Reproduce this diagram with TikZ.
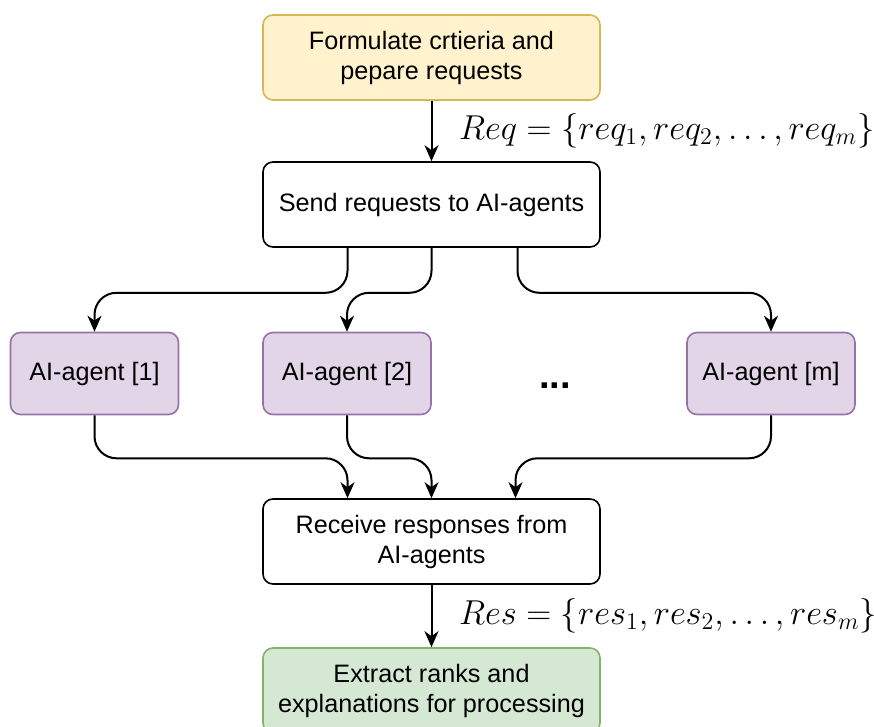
\documentclass[tikz,border=0pt]{standalone}
\usepackage{amsmath}
\usepackage{fontspec}
\setmainfont{Liberation Sans}
\usetikzlibrary{arrows.meta}
\definecolor{startfill}{HTML}{FFF2CC}
\definecolor{startline}{HTML}{D6B656}
\definecolor{agentfill}{HTML}{E1D5E7}
\definecolor{agentline}{HTML}{9673A6}
\definecolor{finishfill}{HTML}{D5E8D4}
\definecolor{finishline}{HTML}{82B366}
\newcommand{\boxfont}{\fontsize{12.6}{15}\selectfont}

\begin{document}
\begin{tikzpicture}[x=0.5pt,y=-0.5pt,->,>={Stealth[length=8pt,width=7pt,inset=2.5pt]},line width=1pt]
 % styles
 \tikzstyle{stage} = [rectangle,rounded corners=5pt,draw=black,fill=white,line width=0.8pt,minimum width=168.5pt,minimum height=42.5pt,align=center,font=\boxfont];
 \tikzstyle{start} = [stage,draw=startline,fill=startfill];
 \tikzstyle{finish} = [stage,draw=finishline,fill=finishfill];
 \tikzstyle{agent} = [stage,draw=agentline,fill=agentfill,minimum width=84pt,minimum height=41pt];
 \tikzstyle{setlabel} = [right,xshift=10pt,font=\fontsize{17}{20}\selectfont];

 \useasboundingbox (0,0) rectangle (874,727);

 % nodes
 \node[start] (formulate) at (431.5,57.5) {Formulate crtieria and\\pepare requests};
 \node[stage,below of=formulate,node distance=73.5pt] (send) {Send requests to AI-agents};
 \node[agent,below of=send,node distance=84.5pt,xshift=-42.25pt] (agent2) {AI-agent [2]};
 \node[agent,left of=agent2,node distance=126.25pt] (agent1) {AI-agent [1]};
 \node[right of=agent2,node distance=104pt,yshift=-6pt,font=\fontsize{19}{20}\selectfont\bfseries] (dots) {...};
 \node[agent,right of=agent2,node distance=212pt] (agentm) {AI-agent [m]};
 \node[stage,below of=send,node distance=168.5pt] (receive) {Receive responses from\\AI-agents};
 \node[finish,below of=receive,node distance=74.5pt] (extract) {Extract ranks and\\explanations for processing};

 % edges
 \path (formulate) edge node[setlabel] {$Req = \{req_1, req_2, \ldots, req_m\}$} (send);

 \draw[rounded corners=11pt] ([xshift=-42pt]send.south) -- ++(0,45) -| (agent1.north);
 \draw[rounded corners=11pt] (send.south) -- ++(0,45) -| (agent2.north);
 \draw[rounded corners=11pt] ([xshift=43pt]send.south) -- ++(0,45) -| (agentm.north);

 \draw[rounded corners=11pt] (agent1.south) -- ++(0,43) -| ([xshift=-42pt]receive.north);
 \draw[rounded corners=11pt] (agent2.south) -- ++(0,43) -| (receive.north);
 \draw[rounded corners=11pt] (agentm.south) -- ++(0,43) -| ([xshift=42pt]receive.north);

 \path (receive) edge node[setlabel] {$Res = \{res_1, res_2, \ldots, res_m\}$} (extract);
\end{tikzpicture}
\end{document}
